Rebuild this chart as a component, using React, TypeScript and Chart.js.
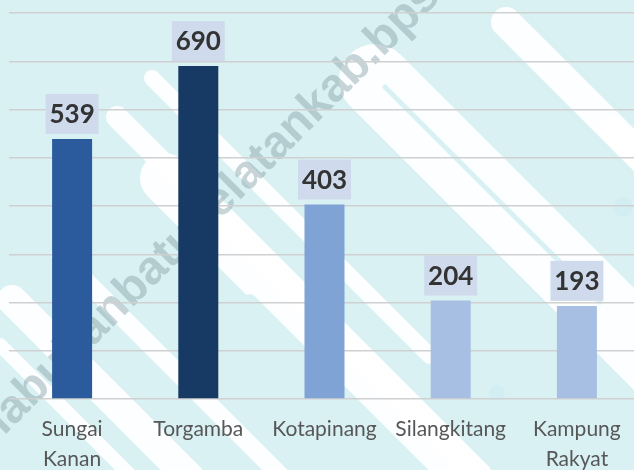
import { useEffect, useRef } from 'react';
import { Chart, registerables } from 'chart.js';

Chart.register(...registerables);

const categories: (string | string[])[] = [
  ['Sungai', 'Kanan'],
  'Torgamba',
  'Kotapinang',
  'Silangkitang',
  ['Kampung', 'Rakyat'],
];
const values = [539, 690, 403, 204, 193];
const barColors = ['#2B5B9C', '#173A65', '#7FA3D4', '#A6BFE2', '#A6BFE2'];
const yMax = 800;
const yStep = 100;
const watermarkText = 'labuhanbatuselatankab.bps.go.id';

// decorative background stripes (45 degree rounded bands): x1, y1, x2, y2, width
const whiteBands: [number, number, number, number, number][] = [
  [506, 22, 760, 276, 30],
  [375, 80, 760, 465, 72],
  [117, 117, 480, 480, 22],
  [152, 78, 430, 356, 16],
  [165, 178, 470, 483, 50],
  [12, 300, 190, 478, 30],
  [0, 345, 140, 485, 14],
  [60, 255, 300, 495, 18],
  [612, 130, 760, 278, 26],
];
const cyanBands: [number, number, number, number, number][] = [
  [478, 108, 760, 390, 22],
  [385, 87, 600, 302, 5],
  [440, 225, 700, 485, 26],
  [355, 240, 560, 445, 10],
  [250, 300, 450, 500, 12],
  [392, 455, 420, 483, 24],
];
const cyanDots: [number, number, number][] = [
  [497, 393, 8],
  [623, 207, 10],
];

const backgroundPlugin = {
  id: 'bgDecor',
  beforeDraw(chart: any) {
    const ctx = chart.ctx as CanvasRenderingContext2D;
    ctx.save();
    ctx.fillStyle = '#DAF1F4';
    ctx.fillRect(0, 0, chart.width, chart.height);
    ctx.lineCap = 'round';
    ctx.strokeStyle = 'rgba(255,255,255,0.92)';
    whiteBands.forEach(([x1, y1, x2, y2, w]) => {
      ctx.lineWidth = w;
      ctx.beginPath();
      ctx.moveTo(x1, y1);
      ctx.lineTo(x2, y2);
      ctx.stroke();
    });
    ctx.strokeStyle = '#DAF1F4';
    cyanBands.forEach(([x1, y1, x2, y2, w]) => {
      ctx.lineWidth = w;
      ctx.beginPath();
      ctx.moveTo(x1, y1);
      ctx.lineTo(x2, y2);
      ctx.stroke();
    });
    ctx.fillStyle = '#D3EEF2';
    cyanDots.forEach(([x, y, r]) => {
      ctx.beginPath();
      ctx.arc(x, y, r, 0, Math.PI * 2);
      ctx.fill();
    });
    // watermark
    ctx.translate(4, 436);
    ctx.rotate(-Math.PI / 4);
    ctx.font = 'bold 47px "Liberation Sans", Arial, sans-serif';
    ctx.fillStyle = 'rgba(120,150,155,0.40)';
    ctx.textBaseline = 'alphabetic';
    ctx.textAlign = 'left';
    ctx.fillText(watermarkText, 0, 0);
    ctx.restore();
  },
};

const labelPlugin = {
  id: 'valueBoxes',
  afterDatasetsDraw(chart: any) {
    const ctx = chart.ctx as CanvasRenderingContext2D;
    const meta = chart.getDatasetMeta(0);
    ctx.save();
    ctx.font = 'bold 26px Lato, "Noto Sans", sans-serif';
    ctx.textAlign = 'center';
    ctx.textBaseline = 'middle';
    meta.data.forEach((bar: any, i: number) => {
      const text = String(values[i]);
      const w = 53;
      const h = 40;
      const top = bar.y - 5 - h;
      ctx.fillStyle = '#CFDBEC';
      ctx.fillRect(bar.x - w / 2, top, w, h);
      ctx.fillStyle = '#333333';
      ctx.fillText(text, bar.x, top + h / 2 + 1);
    });
    ctx.restore();
  },
};

export default function App() {
  const canvasRef = useRef<HTMLCanvasElement | null>(null);

  useEffect(() => {
    document.body.style.margin = '0';
    document.body.style.overflow = 'hidden';
    const canvas = canvasRef.current;
    if (!canvas) return;
    const chart = new Chart(canvas, {
      type: 'bar',
      data: {
        labels: categories,
        datasets: [
          {
            data: values,
            backgroundColor: barColors,
            borderWidth: 0,
            categoryPercentage: 1,
            barPercentage: 0.317,
          },
        ],
      },
      options: {
        animation: false,
        responsive: false,
        maintainAspectRatio: false,
        devicePixelRatio: 1,
        layout: { padding: { left: 9, top: 13, right: 0, bottom: 0 } },
        plugins: {
          legend: { display: false },
          tooltip: { enabled: false },
        },
        scales: {
          x: {
            grid: { display: false, drawTicks: false },
            border: { display: false },
            ticks: {
              color: '#575757',
              font: { family: 'Lato, "Noto Sans", sans-serif', size: 21, lineHeight: 1.43 },
              padding: 15,
              maxRotation: 0,
              autoSkip: false,
            },
            afterFit(scale: any) {
              scale.height = 71;
            },
          },
          y: {
            min: 0,
            max: yMax,
            ticks: { display: false, stepSize: yStep },
            grid: { color: '#D0D0D0', lineWidth: 1.5, drawTicks: false },
            border: { display: false },
            afterFit(scale: any) {
              scale.width = 0;
            },
          },
        },
      },
      plugins: [backgroundPlugin, labelPlugin],
    });
    return () => chart.destroy();
  }, []);

  return (
    <div style={{ width: 634, height: 470, overflow: 'hidden' }}>
      <canvas ref={canvasRef} width={640} height={470} style={{ display: 'block' }} />
    </div>
  );
}
